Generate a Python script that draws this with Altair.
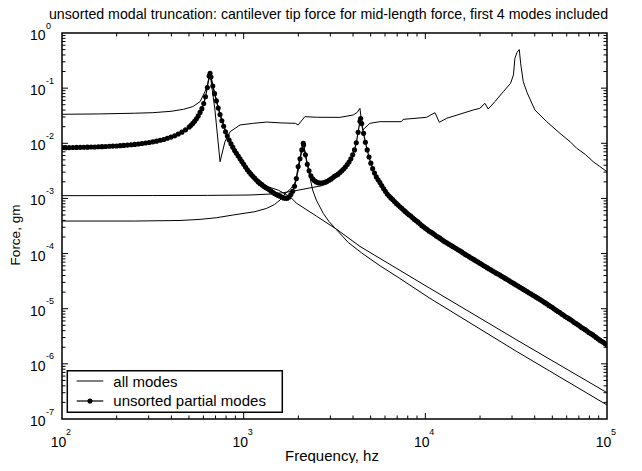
import altair as alt
import pandas as pd

# ---------------- text ----------------
title_text = "unsorted modal truncation:  cantilever tip force for mid-length force, first 4 modes included"
x_title = "Frequency, hz"
y_title = "Force, gm"
legend_labels = ["all modes", "unsorted partial modes"]

# axis decades (tick labels are 10^decade)
x_decades = [2, 3, 4, 5]
y_decades = [0, -1, -2, -3, -4, -5, -6, -7]
minor_mantissas = [2, 3, 4, 5, 6, 7, 8, 9]

# ---------------- data (as powers of ten) ----------------
# "unsorted partial modes" (dotted curve): log10(Hz), log10(gm)
partial_log_hz = [
    2.00, 2.02, 2.04, 2.06, 2.08, 2.10, 2.12, 2.14, 2.16, 2.18,
    2.20, 2.22, 2.24, 2.26, 2.28, 2.30, 2.32, 2.34, 2.36, 2.38,
    2.40, 2.42, 2.44, 2.46, 2.48, 2.50, 2.52, 2.54, 2.56, 2.58,
    2.60, 2.62, 2.64, 2.66, 2.68, 2.70, 2.71, 2.72, 2.73, 2.74,
    2.75, 2.76, 2.77, 2.78, 2.79, 2.80, 2.81, 2.815, 2.82, 2.83,
    2.84, 2.85, 2.86, 2.87, 2.88, 2.89, 2.90, 2.91, 2.92, 2.93,
    2.94, 2.95, 2.96, 2.97, 2.98, 2.99, 3.00, 3.01, 3.02, 3.03,
    3.04, 3.05, 3.06, 3.07, 3.08, 3.09, 3.10, 3.11, 3.12, 3.13,
    3.14, 3.15, 3.16, 3.17, 3.18, 3.19, 3.20, 3.21, 3.22, 3.23,
    3.24, 3.25, 3.26, 3.27, 3.28, 3.29, 3.30, 3.31, 3.32, 3.328,
    3.33, 3.34, 3.35, 3.36, 3.37, 3.38, 3.39, 3.40, 3.41, 3.42,
    3.43, 3.44, 3.45, 3.46, 3.47, 3.48, 3.49, 3.50, 3.51, 3.52,
    3.53, 3.54, 3.55, 3.56, 3.57, 3.58, 3.59, 3.60, 3.61, 3.62,
    3.63, 3.64, 3.644, 3.65, 3.66, 3.67, 3.68, 3.69, 3.70, 3.71,
    3.72, 3.73, 3.74, 3.75, 3.76, 3.77, 3.78, 3.79, 3.80, 3.81,
    3.82, 3.83, 3.84, 3.85, 3.86, 3.87, 3.88, 3.89, 3.90, 3.91,
    3.92, 3.93, 3.94, 3.95, 3.96, 3.97, 3.98, 3.99, 4.00, 4.01,
    4.02, 4.03, 4.04, 4.05, 4.06, 4.07, 4.08, 4.09, 4.10, 4.11,
    4.12, 4.13, 4.14, 4.15, 4.16, 4.17, 4.18, 4.19, 4.20, 4.21,
    4.22, 4.23, 4.24, 4.25, 4.26, 4.27, 4.28, 4.29, 4.30, 4.31,
    4.32, 4.33, 4.34, 4.35, 4.36, 4.37, 4.38, 4.39, 4.40, 4.41,
    4.42, 4.43, 4.44, 4.45, 4.46, 4.47, 4.48, 4.49, 4.50, 4.51,
    4.52, 4.53, 4.54, 4.55, 4.56, 4.57, 4.58, 4.59, 4.60, 4.61,
    4.62, 4.63, 4.64, 4.65, 4.66, 4.67, 4.68, 4.69, 4.70, 4.71,
    4.72, 4.73, 4.74, 4.75, 4.76, 4.77, 4.78, 4.79, 4.80, 4.81,
    4.82, 4.83, 4.84, 4.85, 4.86, 4.87, 4.88, 4.89, 4.90, 4.91,
    4.92, 4.93, 4.94, 4.95, 4.96, 4.97, 4.98, 4.99, 5.00,
]
partial_log_gm = [
    -2.080, -2.079, -2.078, -2.076, -2.075, -2.074, -2.072, -2.070, -2.068, -2.066,
    -2.064, -2.061, -2.058, -2.055, -2.051, -2.048, -2.043, -2.038, -2.033, -2.027,
    -2.020, -2.013, -2.005, -1.996, -1.986, -1.974, -1.961, -1.946, -1.930, -1.910,
    -1.888, -1.862, -1.832, -1.798, -1.756, -1.704, -1.674, -1.639, -1.600, -1.556,
    -1.503, -1.440, -1.372, -1.278, -1.156, -0.988, -0.781, -0.730, -0.800, -0.960,
    -1.100, -1.230, -1.360, -1.480, -1.590, -1.690, -1.790, -1.870, -1.940, -2.010,
    -2.070, -2.130, -2.180, -2.230, -2.280, -2.330, -2.380, -2.430, -2.480, -2.520,
    -2.560, -2.600, -2.630, -2.670, -2.700, -2.730, -2.750, -2.780, -2.800, -2.820,
    -2.840, -2.865, -2.890, -2.910, -2.930, -2.945, -2.960, -2.975, -2.990, -2.997,
    -2.995, -2.975, -2.930, -2.870, -2.780, -2.640, -2.420, -2.280, -2.120, -2.000,
    -2.030, -2.210, -2.380, -2.500, -2.590, -2.645, -2.680, -2.700, -2.715, -2.720,
    -2.720, -2.715, -2.705, -2.690, -2.670, -2.650, -2.625, -2.600, -2.580, -2.560,
    -2.530, -2.500, -2.465, -2.430, -2.385, -2.340, -2.280, -2.210, -2.120, -1.990,
    -1.800, -1.600, -1.550, -1.640, -1.820, -1.980, -2.120, -2.250, -2.360, -2.460,
    -2.540, -2.610, -2.660, -2.710, -2.765, -2.820, -2.870, -2.920, -2.955, -2.990,
    -3.020, -3.055, -3.090, -3.120, -3.150, -3.180, -3.210, -3.240, -3.270, -3.295,
    -3.320, -3.350, -3.380, -3.405, -3.430, -3.460, -3.490, -3.515, -3.540, -3.565,
    -3.590, -3.610, -3.630, -3.655, -3.680, -3.700, -3.720, -3.745, -3.770, -3.790,
    -3.810, -3.830, -3.850, -3.870, -3.890, -3.910, -3.930, -3.950, -3.970, -3.995,
    -4.015, -4.035, -4.055, -4.075, -4.095, -4.115, -4.135, -4.155, -4.175, -4.195,
    -4.215, -4.235, -4.255, -4.275, -4.295, -4.315, -4.335, -4.355, -4.370, -4.390,
    -4.410, -4.430, -4.450, -4.470, -4.490, -4.510, -4.530, -4.550, -4.570, -4.590,
    -4.610, -4.630, -4.650, -4.670, -4.690, -4.710, -4.730, -4.750, -4.770, -4.790,
    -4.810, -4.830, -4.850, -4.875, -4.895, -4.915, -4.940, -4.960, -4.980, -5.005,
    -5.030, -5.050, -5.070, -5.095, -5.115, -5.140, -5.160, -5.180, -5.200, -5.225,
    -5.250, -5.270, -5.290, -5.315, -5.340, -5.360, -5.380, -5.405, -5.430, -5.450,
    -5.470, -5.495, -5.520, -5.545, -5.570, -5.590, -5.610, -5.635, -5.658,
]

# "all modes" thin curves
all1_log_hz = [2.00, 2.20, 2.40, 2.50, 2.60, 2.668, 2.72, 2.76, 2.787, 2.80,
               2.815, 2.842, 2.870, 2.897, 2.925, 2.980, 3.053, 3.127, 3.200, 3.285,
               3.300, 3.337, 3.400, 3.530, 3.603, 3.625, 3.640, 3.655, 3.695, 3.750,
               3.869, 3.878, 4.007, 4.053, 4.077, 4.117, 4.264, 4.300, 4.328, 4.346,
               4.383, 4.429, 4.469, 4.485, 4.493, 4.505, 4.517, 4.525, 4.539, 4.560,
               4.603, 4.668, 4.741, 4.800, 4.833, 4.880, 4.924, 4.960, 5.000]
all1_log_gm = [-1.474, -1.468, -1.455, -1.445, -1.420, -1.384, -1.335, -1.245, -1.064, -0.950,
               -0.730, -1.400, -2.334, -1.971, -1.790, -1.668, -1.638, -1.615, -1.630, -1.638,
               -1.668, -1.517, -1.528, -1.530, -1.487, -1.440, -1.366, -1.760, -1.638, -1.608,
               -1.608, -1.566, -1.529, -1.445, -1.620, -1.547, -1.396, -1.366, -1.275, -1.378,
               -1.245, -1.064, -0.913, -0.760, -0.459, -0.350, -0.300, -0.560, -0.883, -1.080,
               -1.396, -1.608, -1.819, -1.980, -2.090, -2.200, -2.334, -2.420, -2.515]

all2_log_hz = [2.815, 2.833, 2.851, 2.870, 2.906, 2.961, 3.035, 3.080, 3.127, 3.191,
               3.255, 3.292, 3.400, 3.512, 3.640, 4.025, 4.500, 5.000]
all2_log_gm = [-0.730, -0.990, -1.230, -1.470, -1.830, -2.160, -2.500, -2.650, -2.780, -2.850,
               -2.969, -3.089, -3.320, -3.560, -3.870, -4.630, -5.560, -6.523]

all3_log_hz = [2.00, 2.50, 2.80, 3.035, 3.150, 3.218, 3.300, 3.380, 3.430, 3.460]
all3_log_gm = [-2.950, -2.948, -2.945, -2.938, -2.920, -2.896, -2.850, -2.800, -2.770, -2.720]

all4_log_hz = [2.00, 2.40, 2.65, 2.76, 2.85, 2.943, 3.062, 3.127, 3.170, 3.200,
               3.227, 3.260, 3.282, 3.300, 3.310, 3.320, 3.328, 3.340, 3.355, 3.365,
               3.380, 3.400, 3.438, 3.470, 3.512, 3.576, 3.650, 3.750, 3.850, 4.025,
               4.500, 5.000]
all4_log_gm = [-3.410, -3.410, -3.400, -3.380, -3.350, -3.300, -3.240, -3.180, -3.110, -3.030,
               -2.920, -2.820, -2.720, -2.500, -2.300, -2.120, -2.000, -2.200, -2.450, -2.620,
               -2.850, -3.030, -3.270, -3.420, -3.570, -3.800, -3.990, -4.220, -4.430, -4.811,
               -5.770, -6.746]


def series(log_hz, log_gm, name):
    return pd.DataFrame({
        "f": [10.0 ** u for u in log_hz],
        "v": [10.0 ** w for w in log_gm],
        "i": list(range(len(log_hz))),
        "curve": name,
    })


thin_df = pd.concat([
    series(all1_log_hz, all1_log_gm, "a1"),
    series(all2_log_hz, all2_log_gm, "a2"),
    series(all3_log_hz, all3_log_gm, "a3"),
    series(all4_log_hz, all4_log_gm, "a4"),
], ignore_index=True)
part_df = series(partial_log_hz, partial_log_gm, "partial")

# ---------------- layout / style ----------------
W, H = 545, 386
FONT = "Liberation Sans"
xs = alt.Scale(type="log", domain=[100, 100000], nice=False)
ys = alt.Scale(type="log", domain=[1e-7, 1], nice=False)
X = lambda fld: alt.X(fld, scale=xs, axis=None)
Y = lambda fld: alt.Y(fld, scale=ys, axis=None)
one = pd.DataFrame({"k": [0]})

thin = alt.Chart(thin_df).mark_line(color="black", strokeWidth=1, clip=True).encode(
    x=X("f:Q"), y=Y("v:Q"), detail="curve:N", order="i:Q")

partial = alt.Chart(part_df).mark_line(
    color="black", strokeWidth=1.2, clip=True,
    point=alt.OverlayMarkDef(filled=True, fill="black", color="black", size=26, opacity=1),
).encode(x=X("f:Q"), y=Y("v:Q"), order="i:Q")

# ticks (inward, on all four sides)
x_major = [10.0 ** d for d in x_decades[1:-1]]
x_minor = [m * 10.0 ** d for d in x_decades[:-1] for m in minor_mantissas]
y_major = [10.0 ** d for d in y_decades[1:-1]]
y_minor = [m * 10.0 ** d for d in y_decades[1:] for m in minor_mantissas]


def xtick(vals, ln):
    d = pd.DataFrame({"f": vals})
    b = alt.Chart(d).mark_rule(color="black", strokeWidth=1).encode(
        x=X("f:Q"), y=alt.value(H), y2=alt.value(H - ln))
    t = alt.Chart(d).mark_rule(color="black", strokeWidth=1).encode(
        x=X("f:Q"), y=alt.value(0), y2=alt.value(ln))
    return [b, t]


def ytick(vals, ln):
    d = pd.DataFrame({"v": vals})
    l = alt.Chart(d).mark_rule(color="black", strokeWidth=1).encode(
        y=Y("v:Q"), x=alt.value(0), x2=alt.value(ln))
    r = alt.Chart(d).mark_rule(color="black", strokeWidth=1).encode(
        y=Y("v:Q"), x=alt.value(W), x2=alt.value(W - ln))
    return [l, r]


ticks = xtick(x_major, 6) + xtick(x_minor, 3.5) + ytick(y_major, 6) + ytick(y_minor, 3.5)

# tick labels 10^n
xl = pd.DataFrame({"f": [10.0 ** d for d in x_decades], "e": [str(d) for d in x_decades]})
yl = pd.DataFrame({"v": [10.0 ** d for d in y_decades], "e": [str(d) for d in y_decades]})
labels = [
    alt.Chart(xl).mark_text(font=FONT, fontSize=14, align="center", baseline="alphabetic",
                            dx=-3.5, color="black").encode(
        x=X("f:Q"), y=alt.value(H + 27.7), text=alt.value("10")),
    alt.Chart(xl).mark_text(font=FONT, fontSize=9, align="left", baseline="alphabetic",
                            dx=4, color="black").encode(
        x=X("f:Q"), y=alt.value(H + 16), text="e:N"),
    alt.Chart(yl).mark_text(font=FONT, fontSize=14, align="right", baseline="alphabetic",
                            dx=-16.5, dy=7, color="black").encode(
        y=Y("v:Q"), x=alt.value(0), text=alt.value("10")),
    alt.Chart(yl).mark_text(font=FONT, fontSize=9, align="left", baseline="alphabetic",
                            dx=-16, dy=-4.5, color="black").encode(
        y=Y("v:Q"), x=alt.value(0), text="e:N"),
]

titles = [
    alt.Chart(pd.DataFrame({"t": [title_text]})).mark_text(
        font=FONT, fontSize=14.2, align="center", baseline="alphabetic", color="black").encode(
        x=alt.value(266.5), y=alt.value(-13.8), text="t:N"),
    alt.Chart(pd.DataFrame({"t": [x_title]})).mark_text(
        font=FONT, fontSize=15, align="center", baseline="alphabetic", color="black").encode(
        x=alt.value(270), y=alt.value(H + 42), text="t:N"),
    alt.Chart(pd.DataFrame({"t": [y_title]})).mark_text(
        font=FONT, fontSize=13.5, align="center", baseline="alphabetic", angle=270, color="black").encode(
        x=alt.value(-42), y=alt.value(202), text="t:N"),
]

# legend (drawn by hand)
legend = [
    alt.Chart(one).mark_rect(fill="white", stroke="black", strokeWidth=1.5).encode(
        x=alt.value(5.3), x2=alt.value(220.3), y=alt.value(337.7), y2=alt.value(379.3)),
    alt.Chart(one).mark_rule(color="black", strokeWidth=1).encode(
        x=alt.value(14.7), x2=alt.value(41.3), y=alt.value(348)),
    alt.Chart(one).mark_rule(color="black", strokeWidth=1.2).encode(
        x=alt.value(14.7), x2=alt.value(41.3), y=alt.value(368)),
    alt.Chart(one).mark_point(filled=True, fill="black", color="black", size=26, opacity=1).encode(
        x=alt.value(28), y=alt.value(368)),
    alt.Chart(pd.DataFrame({"t": [legend_labels[0]]})).mark_text(
        font=FONT, fontSize=15, align="left", baseline="alphabetic", color="black").encode(
        x=alt.value(51.3), y=alt.value(354.3), text="t:N"),
    alt.Chart(pd.DataFrame({"t": [legend_labels[1]]})).mark_text(
        font=FONT, fontSize=15, align="left", baseline="alphabetic", color="black").encode(
        x=alt.value(51.3), y=alt.value(372.7), text="t:N"),
]

chart = alt.layer(thin, partial, *ticks, *labels, *titles, *legend).properties(
    width=W, height=H,
    padding={"left": 54, "top": 25, "right": 27, "bottom": 44},
    autosize=alt.AutoSizeParams(type="none"),
).configure_view(stroke="black", strokeWidth=1.5)

chart.save("out.html", embed_options={"renderer": "svg", "actions": False})
